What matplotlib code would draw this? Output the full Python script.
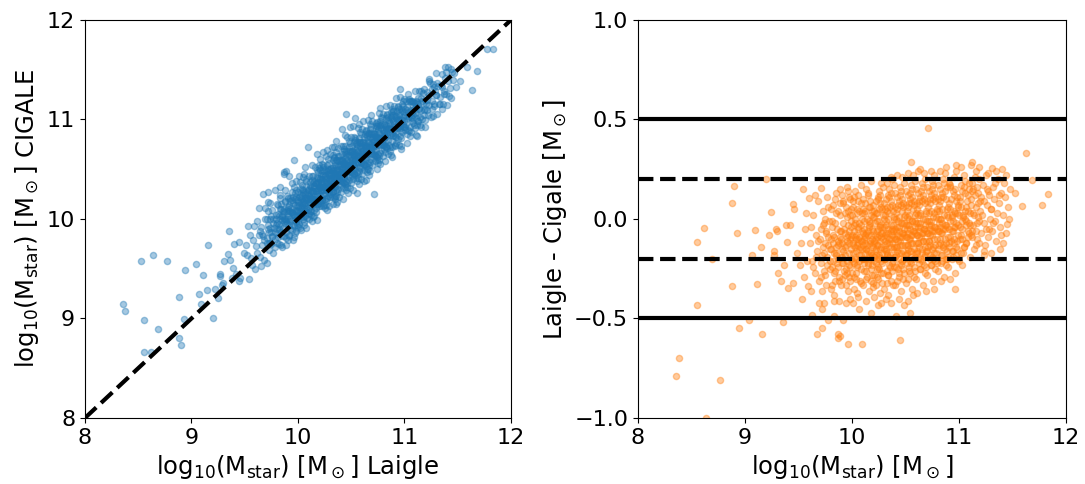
import matplotlib
matplotlib.use('Agg')
import matplotlib.pyplot as plt
import numpy as np

# (Laigle log10 Mstar, Laigle - Cigale): sparse/outlying galaxies
outlier_pts = [
    (8.53, -1.045), (8.635, -1.00), (8.77, -0.81), (8.355, -0.79), (8.38, -0.70),
    (8.55, -0.43), (8.55, -0.114), (8.62, -0.047), (8.69, -0.20), (8.88, 0.079),
    (8.90, 0.166), (8.88, -0.337), (8.93, -0.069), (8.94, -0.55), (9.04, -0.51),
    (9.07, -0.18), (9.09, -0.054), (9.11, -0.327), (9.15, -0.139), (9.16, -0.58),
    (9.20, 0.20), (9.22, -0.08), (9.245, 0.035), (9.27, -0.16), (9.27, -0.18),
    (9.29, -0.05), (9.30, -0.06), (9.31, -0.27), (9.34, -0.31), (9.355, -0.52),
    (9.36, -0.23), (9.38, -0.03), (9.39, -0.115), (9.40, -0.345), (9.42, -0.03),
    (9.45, -0.32), (9.45, 0.074), (9.46, 0.05), (9.51, -0.23), (9.53, -0.40),
    (9.545, 0.149), (9.59, -0.337), (9.60, 0.107), (9.63, -0.48), (9.65, 0.12),
    (9.67, -0.58), (9.69, -0.42), (9.71, 0.156), (9.72, -0.55), (9.72, -0.45),
    (9.74, -0.42), (9.78, -0.51), (9.83, -0.41), (9.83, -0.49), (9.87, -0.58),
    (9.87, -0.60), (9.88, -0.41), (9.89, -0.59), (9.92, -0.51), (9.94, -0.42),
    (9.965, -0.63), (10.01, -0.42), (10.07, -0.45), (10.09, -0.63), (10.18, -0.47),
    (10.24, -0.43), (10.33, 0.18), (10.36, -0.42), (10.36, 0.21), (10.41, -0.49),
    (10.45, -0.61), (10.49, -0.43), (10.54, -0.47), (10.55, 0.288), (10.57, -0.38),
    (10.62, 0.243), (10.71, 0.456), (10.77, -0.35), (10.82, 0.24), (10.96, -0.35),
    (10.97, 0.27), (11.11, 0.27), (11.12, 0.285), (11.19, 0.263), (11.23, -0.18),
    (11.30, -0.17), (11.31, 0.255), (11.40, 0.25), (11.45, -0.025), (11.52, 0.132),
    (11.59, 0.065), (11.63, 0.333), (11.68, 0.194), (11.78, 0.07), (11.83, 0.124),
]

# (Laigle log10 Mstar, Laigle - Cigale) estimated for the halo around the cloud
halo_pts = [
    (9.52,-0.12),(9.56,-0.05),(9.58,-0.21),(9.55,-0.29),(9.49,-0.17),(9.62,-0.36),(9.57,0.03),
    (9.98,-0.40),(10.06,-0.39),(10.13,-0.41),(10.21,-0.39),(10.27,-0.42),(10.32,-0.40),(10.44,-0.40),
    (10.52,-0.41),(10.61,-0.37),(10.69,-0.36),(10.83,-0.31),(10.92,-0.30),
    (10.42,0.22),(10.52,0.23),(10.64,0.25),(10.74,0.24),(10.88,0.26),(11.02,0.26),(11.16,0.24),
    (11.27,0.23),(11.35,0.24),(11.42,0.18),(11.44,0.22),(11.41,-0.12),(11.38,-0.15),(11.47,0.00),
]

# (Laigle log10 Mstar, Laigle - Cigale) estimated for the dense cloud
core_pts = [
    (9.61,-0.12),(9.63,-0.21),(9.64,0.02),(9.65,-0.27),(9.66,-0.08),(9.67,-0.16),(9.68,0.09),(9.69,-0.31),(9.62,-0.04),(9.66,-0.19),(9.68,-0.11),(9.64,-0.24),
    (9.71,-0.05),(9.72,-0.18),(9.73,0.04),(9.74,-0.26),(9.75,-0.12),(9.76,-0.33),(9.77,0.11),(9.78,-0.09),(9.79,-0.21),(9.71,-0.29),(9.73,-0.14),(9.75,0.00),(9.76,-0.07),(9.77,-0.23),(9.78,0.06),(9.79,-0.15),(9.72,-0.36),(9.74,-0.02),
    (9.80,-0.10),(9.81,-0.24),(9.82,0.07),(9.83,-0.17),(9.84,-0.31),(9.85,0.13),(9.86,-0.05),(9.87,-0.20),(9.88,-0.12),(9.89,0.02),(9.80,-0.35),(9.82,-0.08),(9.83,-0.27),(9.84,0.10),(9.85,-0.14),(9.86,-0.22),(9.87,0.04),(9.88,-0.29),(9.89,-0.09),(9.81,-0.01),(9.83,-0.38),(9.85,-0.18),(9.87,-0.11),(9.89,0.15),
    (9.90,-0.06),(9.91,-0.19),(9.92,0.08),(9.93,-0.28),(9.94,-0.13),(9.95,0.16),(9.96,-0.03),(9.97,-0.23),(9.98,-0.10),(9.99,0.05),(9.90,-0.33),(9.91,0.12),(9.92,-0.16),(9.93,-0.07),(9.94,-0.25),(9.95,0.01),(9.96,-0.36),(9.97,-0.12),(9.98,0.10),(9.99,-0.20),(9.91,-0.30),(9.93,0.03),(9.95,-0.09),(9.97,-0.17),(9.99,-0.04),(9.92,-0.22),(9.96,0.14),(9.98,-0.31),
    (10.00,-0.08),(10.01,-0.21),(10.02,0.11),(10.03,-0.14),(10.04,-0.30),(10.05,0.03),(10.06,-0.05),(10.07,-0.18),(10.08,0.17),(10.09,-0.11),(10.00,-0.27),(10.01,0.06),(10.02,-0.35),(10.03,-0.02),(10.04,-0.16),(10.05,-0.24),(10.06,0.09),(10.07,-0.09),(10.08,-0.32),(10.09,0.00),(10.01,-0.13),(10.02,-0.06),(10.03,0.14),(10.04,-0.20),(10.05,-0.37),(10.06,-0.12),(10.07,0.04),(10.08,-0.25),(10.09,-0.15),(10.00,0.02),(10.04,-0.10),(10.08,-0.03),
    (10.10,-0.07),(10.11,-0.22),(10.12,0.08),(10.13,-0.15),(10.14,-0.29),(10.15,0.12),(10.16,-0.04),(10.17,-0.19),(10.18,0.19),(10.19,-0.10),(10.10,-0.33),(10.11,0.03),(10.12,-0.12),(10.13,-0.26),(10.14,0.00),(10.15,-0.08),(10.16,-0.36),(10.17,0.06),(10.18,-0.17),(10.19,-0.28),(10.10,0.10),(10.11,-0.05),(10.12,-0.20),(10.13,0.15),(10.14,-0.13),(10.15,-0.23),(10.16,-0.01),(10.17,-0.11),(10.18,-0.31),(10.19,0.04),(10.12,-0.09),(10.15,-0.16),(10.17,-0.02),(10.19,-0.18),
    (10.20,-0.06),(10.21,-0.19),(10.22,0.09),(10.23,-0.13),(10.24,-0.30),(10.25,0.14),(10.26,-0.03),(10.27,-0.21),(10.28,0.05),(10.29,-0.10),(10.20,-0.34),(10.21,0.01),(10.22,-0.15),(10.23,-0.25),(10.24,0.11),(10.25,-0.08),(10.26,-0.37),(10.27,0.18),(10.28,-0.17),(10.29,-0.27),(10.20,0.07),(10.21,-0.11),(10.22,-0.22),(10.23,0.03),(10.24,-0.05),(10.25,-0.18),(10.26,0.12),(10.27,-0.07),(10.28,-0.32),(10.29,0.02),(10.21,-0.28),(10.23,-0.09),(10.25,-0.01),(10.27,-0.14),(10.29,0.16),(10.24,-0.20),
    (10.30,-0.04),(10.31,-0.20),(10.32,0.10),(10.33,-0.12),(10.34,-0.28),(10.35,0.15),(10.36,-0.06),(10.37,-0.22),(10.38,0.04),(10.39,-0.09),(10.30,-0.35),(10.31,0.02),(10.32,-0.16),(10.33,-0.26),(10.34,0.12),(10.35,-0.10),(10.36,-0.31),(10.37,0.20),(10.38,-0.15),(10.39,-0.24),(10.30,0.08),(10.31,-0.13),(10.32,-0.03),(10.33,0.06),(10.34,-0.07),(10.35,-0.19),(10.36,0.13),(10.37,-0.05),(10.38,-0.33),(10.39,0.00),(10.31,-0.08),(10.33,-0.18),(10.35,0.03),(10.37,-0.12),(10.39,0.17),(10.34,-0.38),
    (10.40,-0.05),(10.41,-0.18),(10.42,0.11),(10.43,-0.11),(10.44,-0.29),(10.45,0.16),(10.46,-0.02),(10.47,-0.21),(10.48,0.06),(10.49,-0.08),(10.40,-0.33),(10.41,0.03),(10.42,-0.14),(10.43,-0.25),(10.44,0.09),(10.45,-0.09),(10.46,-0.36),(10.47,0.21),(10.48,-0.16),(10.49,-0.27),(10.40,0.13),(10.41,-0.10),(10.42,-0.04),(10.43,0.07),(10.44,-0.06),(10.45,-0.20),(10.46,0.14),(10.47,-0.07),(10.48,-0.30),(10.49,0.01),(10.41,-0.24),(10.43,-0.01),(10.45,-0.13),(10.47,0.04),(10.49,0.18),(10.44,-0.17),
    (10.50,-0.03),(10.51,-0.17),(10.52,0.12),(10.53,-0.10),(10.54,-0.27),(10.55,0.17),(10.56,-0.01),(10.57,-0.20),(10.58,0.07),(10.59,-0.07),(10.50,-0.32),(10.51,0.04),(10.52,-0.13),(10.53,-0.24),(10.54,0.10),(10.55,-0.08),(10.56,-0.35),(10.57,0.22),(10.58,-0.15),(10.59,-0.26),(10.50,0.14),(10.51,-0.09),(10.52,-0.03),(10.53,0.08),(10.54,-0.05),(10.55,-0.19),(10.56,0.15),(10.57,-0.06),(10.58,-0.29),(10.59,0.02),(10.51,-0.22),(10.53,0.00),(10.55,-0.12),(10.57,0.05),(10.59,0.19),(10.54,-0.16),
    (10.60,-0.02),(10.61,-0.16),(10.62,0.13),(10.63,-0.09),(10.64,-0.25),(10.65,0.18),(10.66,0.00),(10.67,-0.19),(10.68,0.08),(10.69,-0.06),(10.60,-0.30),(10.61,0.05),(10.62,-0.12),(10.63,-0.22),(10.64,0.11),(10.65,-0.07),(10.66,-0.33),(10.67,0.23),(10.68,-0.14),(10.69,-0.24),(10.60,0.15),(10.61,-0.08),(10.62,-0.02),(10.63,0.09),(10.64,-0.04),(10.65,-0.17),(10.66,0.16),(10.67,-0.05),(10.68,-0.27),(10.69,0.03),(10.62,-0.20),(10.64,0.02),(10.66,-0.11),(10.68,0.20),
    (10.70,-0.01),(10.71,-0.14),(10.72,0.14),(10.73,-0.08),(10.74,-0.23),(10.75,0.19),(10.76,0.01),(10.77,-0.17),(10.78,0.09),(10.79,-0.05),(10.70,-0.28),(10.71,0.06),(10.72,-0.11),(10.73,-0.20),(10.74,0.12),(10.75,-0.06),(10.76,-0.31),(10.77,0.22),(10.78,-0.13),(10.79,-0.22),(10.70,0.16),(10.71,-0.07),(10.72,-0.01),(10.73,0.10),(10.74,-0.03),(10.75,-0.15),(10.76,0.17),(10.77,-0.04),(10.78,-0.25),(10.79,0.04),(10.73,-0.18),(10.77,0.03),
    (10.80,0.00),(10.81,-0.13),(10.82,0.15),(10.83,-0.07),(10.84,-0.21),(10.85,0.20),(10.86,0.02),(10.87,-0.15),(10.88,0.10),(10.89,-0.04),(10.80,-0.26),(10.81,0.07),(10.82,-0.10),(10.83,-0.18),(10.84,0.13),(10.85,-0.05),(10.86,-0.29),(10.87,0.23),(10.88,-0.12),(10.89,-0.20),(10.80,0.17),(10.81,-0.06),(10.82,0.00),(10.83,0.11),(10.84,-0.02),(10.85,-0.14),(10.86,0.18),(10.87,-0.03),(10.88,-0.23),(10.89,0.05),
    (10.90,0.01),(10.91,-0.12),(10.92,0.16),(10.93,-0.06),(10.94,-0.19),(10.95,0.21),(10.96,0.03),(10.97,-0.14),(10.98,0.11),(10.99,-0.03),(10.90,-0.24),(10.91,0.08),(10.92,-0.09),(10.93,-0.16),(10.94,0.14),(10.95,-0.04),(10.96,-0.27),(10.97,0.24),(10.98,-0.11),(10.99,0.06),(10.91,0.18),(10.93,0.02),(10.95,-0.10),(10.97,0.09),(10.99,-0.20),(10.94,-0.01),
    (11.00,0.02),(11.01,-0.10),(11.02,0.17),(11.03,-0.05),(11.04,-0.17),(11.05,0.22),(11.06,0.04),(11.07,-0.12),(11.08,0.12),(11.09,-0.02),(11.00,-0.21),(11.01,0.09),(11.02,-0.08),(11.03,0.14),(11.04,0.01),(11.05,-0.14),(11.06,0.19),(11.07,0.06),(11.08,-0.06),(11.09,0.15),(11.03,-0.23),(11.07,-0.01),
    (11.10,0.03),(11.11,-0.08),(11.12,0.18),(11.13,-0.03),(11.14,-0.15),(11.15,0.21),(11.16,0.06),(11.17,-0.10),(11.18,0.13),(11.19,-0.01),(11.10,-0.19),(11.11,0.10),(11.12,-0.06),(11.13,0.15),(11.14,0.02),(11.16,-0.13),(11.18,0.08),(11.19,0.20),
    (11.20,0.04),(11.21,-0.07),(11.22,0.17),(11.23,-0.02),(11.24,-0.13),(11.25,0.22),(11.26,0.07),(11.27,-0.09),(11.28,0.12),(11.29,0.00),(11.21,0.11),(11.23,-0.16),(11.26,0.15),(11.28,-0.05),
    (11.30,0.05),(11.31,-0.06),(11.32,0.16),(11.34,-0.01),(11.35,-0.11),(11.36,0.20),(11.37,0.08),(11.38,-0.04),(11.39,0.13),(11.33,0.10),
    (11.41,0.02),(11.43,0.11),(11.44,-0.07),(11.46,0.06),(11.48,0.15),
]

# (Laigle log10 Mstar, Laigle - Cigale) estimated for the saturated centre of the cloud
centre_pts = [
    (9.705,-0.10),(9.715,-0.22),(9.725,-0.03),(9.735,-0.17),(9.745,-0.28),(9.755,-0.06),(9.765,-0.19),(9.775,-0.13),(9.785,-0.01),(9.795,-0.25),
    (9.805,-0.15),(9.815,-0.04),(9.825,-0.21),(9.835,-0.09),(9.845,-0.26),(9.855,0.03),(9.865,-0.13),(9.875,-0.31),(9.885,-0.06),(9.895,-0.19),(9.805,0.05),(9.825,-0.12),(9.845,-0.02),(9.865,-0.24),(9.885,0.08),(9.815,-0.33),(9.855,-0.17),(9.895,-0.10),
    (9.905,-0.12),(9.915,-0.02),(9.925,-0.26),(9.935,-0.14),(9.945,0.06),(9.955,-0.21),(9.965,-0.08),(9.975,-0.29),(9.985,0.02),(9.995,-0.15),(9.905,-0.22),(9.915,0.09),(9.925,-0.05),(9.935,-0.18),(9.945,-0.33),(9.955,-0.11),(9.965,0.04),(9.975,-0.06),(9.985,-0.24),(9.995,-0.09),(9.91,-0.15),(9.95,-0.27),(9.97,0.11),(9.99,-0.01),
    (10.005,-0.12),(10.015,-0.03),(10.025,-0.19),(10.035,-0.27),(10.045,0.05),(10.055,-0.10),(10.065,-0.21),(10.075,-0.14),(10.085,0.08),(10.095,-0.06),(10.005,-0.17),(10.015,-0.29),(10.025,0.00),(10.035,-0.08),(10.045,-0.23),(10.055,0.12),(10.065,-0.15),(10.075,-0.31),(10.085,-0.11),(10.095,-0.20),(10.005,0.09),(10.025,-0.09),(10.045,-0.13),(10.065,-0.02),(10.085,-0.18),(10.015,-0.22),(10.055,-0.04),(10.095,0.03),
    (10.105,-0.13),(10.115,-0.01),(10.125,-0.17),(10.135,-0.07),(10.145,-0.22),(10.155,0.06),(10.165,-0.12),(10.175,-0.25),(10.185,-0.05),(10.195,-0.14),(10.105,-0.20),(10.115,-0.10),(10.125,0.04),(10.135,-0.30),(10.145,-0.06),(10.155,-0.18),(10.165,0.09),(10.175,-0.08),(10.185,-0.23),(10.195,0.01),(10.105,0.05),(10.115,-0.26),(10.125,-0.08),(10.135,-0.15),(10.145,0.13),(10.155,-0.03),(10.165,-0.20),(10.175,0.02),(10.185,-0.13),(10.195,-0.32),
    (10.205,-0.12),(10.215,-0.02),(10.225,-0.18),(10.235,-0.06),(10.245,-0.24),(10.255,0.05),(10.265,-0.11),(10.275,-0.27),(10.285,-0.04),(10.295,-0.15),(10.205,-0.21),(10.215,-0.08),(10.225,0.03),(10.235,-0.29),(10.245,-0.13),(10.255,-0.19),(10.265,0.08),(10.275,-0.09),(10.285,-0.22),(10.295,0.00),(10.205,0.04),(10.215,-0.16),(10.225,-0.10),(10.235,-0.01),(10.245,0.10),(10.255,-0.25),(10.265,-0.15),(10.275,0.06),(10.285,-0.07),(10.295,-0.20),(10.225,-0.33),(10.265,-0.04),
    (10.305,-0.11),(10.315,-0.01),(10.325,-0.17),(10.335,-0.05),(10.345,-0.23),(10.355,0.06),(10.365,-0.10),(10.375,-0.26),(10.385,-0.03),(10.395,-0.14),(10.305,-0.20),(10.315,-0.07),(10.325,0.04),(10.335,-0.28),(10.345,-0.12),(10.355,-0.18),(10.365,0.09),(10.375,-0.08),(10.385,-0.21),(10.395,0.01),(10.305,0.05),(10.315,-0.15),(10.325,-0.09),(10.335,0.00),(10.345,0.11),(10.355,-0.24),(10.365,-0.14),(10.375,0.07),(10.385,-0.06),(10.395,-0.19),(10.325,-0.32),(10.365,-0.03),
    (10.405,-0.10),(10.415,0.00),(10.425,-0.16),(10.435,-0.04),(10.445,-0.22),(10.455,0.07),(10.465,-0.09),(10.475,-0.25),(10.485,-0.02),(10.495,-0.13),(10.405,-0.19),(10.415,-0.06),(10.425,0.05),(10.435,-0.27),(10.445,-0.11),(10.455,-0.17),(10.465,0.10),(10.475,-0.07),(10.485,-0.20),(10.495,0.02),(10.405,0.06),(10.415,-0.14),(10.425,-0.08),(10.435,0.01),(10.445,0.12),(10.455,-0.23),(10.465,-0.13),(10.475,0.08),(10.485,-0.05),(10.495,-0.18),(10.425,-0.31),(10.465,-0.02),
    (10.505,-0.09),(10.515,0.01),(10.525,-0.15),(10.535,-0.03),(10.545,-0.21),(10.555,0.08),(10.565,-0.08),(10.575,-0.24),(10.585,-0.01),(10.595,-0.12),(10.505,-0.18),(10.515,-0.05),(10.525,0.06),(10.535,-0.26),(10.545,-0.10),(10.555,-0.16),(10.565,0.11),(10.575,-0.06),(10.585,-0.19),(10.595,0.03),(10.505,0.07),(10.515,-0.13),(10.525,-0.07),(10.535,0.02),(10.545,0.13),(10.555,-0.22),(10.565,-0.12),(10.575,0.09),(10.585,-0.04),(10.595,-0.17),(10.525,-0.30),(10.565,-0.01),
    (10.605,-0.08),(10.615,0.02),(10.625,-0.14),(10.635,-0.02),(10.645,-0.20),(10.655,0.09),(10.665,-0.07),(10.675,-0.23),(10.685,0.00),(10.695,-0.11),(10.605,-0.17),(10.615,-0.04),(10.625,0.07),(10.635,-0.25),(10.645,-0.09),(10.655,-0.15),(10.665,0.12),(10.675,-0.05),(10.685,-0.18),(10.695,0.04),(10.605,0.08),(10.615,-0.12),(10.625,-0.06),(10.635,0.03),(10.645,0.14),(10.655,-0.21),(10.665,-0.11),(10.675,0.10),(10.685,-0.03),(10.695,-0.16),
    (10.705,-0.07),(10.715,0.03),(10.725,-0.13),(10.735,-0.01),(10.745,-0.19),(10.755,0.10),(10.765,-0.06),(10.775,-0.21),(10.785,0.01),(10.795,-0.10),(10.705,-0.16),(10.715,-0.03),(10.725,0.08),(10.735,-0.23),(10.745,-0.08),(10.755,-0.14),(10.765,0.13),(10.775,-0.04),(10.785,-0.17),(10.795,0.05),(10.705,0.09),(10.715,-0.11),(10.725,-0.05),(10.735,0.04),(10.745,0.15),(10.755,-0.20),(10.765,-0.10),(10.775,0.11),
    (10.805,-0.06),(10.815,0.04),(10.825,-0.12),(10.835,0.00),(10.845,-0.18),(10.855,0.11),(10.865,-0.05),(10.875,-0.20),(10.885,0.02),(10.895,-0.09),(10.805,-0.15),(10.815,-0.02),(10.825,0.09),(10.835,-0.22),(10.845,-0.07),(10.855,-0.13),(10.865,0.14),(10.875,-0.03),(10.885,-0.16),(10.895,0.06),(10.805,0.10),(10.825,-0.04),(10.845,0.05),(10.865,-0.10),(10.885,0.16),(10.895,-0.19),
    (10.905,-0.05),(10.915,0.05),(10.925,-0.11),(10.935,0.01),(10.945,-0.16),(10.955,0.12),(10.965,-0.04),(10.975,-0.18),(10.985,0.03),(10.995,-0.08),(10.905,-0.14),(10.915,-0.01),(10.925,0.10),(10.935,-0.20),(10.945,-0.06),(10.955,-0.12),(10.965,0.15),(10.975,-0.02),(10.985,-0.15),(10.995,0.07),(10.915,0.17),(10.955,0.04),
    (11.005,-0.04),(11.015,0.06),(11.025,-0.10),(11.035,0.02),(11.045,-0.14),(11.055,0.13),(11.065,-0.03),(11.075,0.09),(11.085,0.04),(11.095,-0.07),(11.005,0.11),(11.025,-0.01),(11.045,0.16),(11.065,-0.12),(11.085,-0.09),(11.015,-0.17),(11.055,0.00),(11.095,0.18),
    (11.105,-0.03),(11.115,0.07),(11.125,-0.09),(11.135,0.03),(11.145,0.12),(11.155,-0.06),(11.165,0.16),(11.175,0.01),(11.185,-0.12),(11.195,0.09),(11.125,0.14),(11.165,-0.02),
    (11.215,0.02),(11.235,0.09),(11.255,-0.05),(11.275,0.14),(11.295,0.05),(11.315,-0.02),(11.335,0.18),(11.355,0.03),(11.375,0.12),(11.395,-0.08),
]

x_ticks = [8, 9, 10, 11, 12]
y_ticks_left = [8, 9, 10, 11, 12]
y_ticks_right = [-1.0, -0.5, 0.0, 0.5, 1.0]

pts = np.array(outlier_pts + halo_pts + core_pts + centre_pts)
laigle = pts[:, 0]
laigle_minus_cigale = pts[:, 1]
cigale = laigle - laigle_minus_cigale

plt.rcParams['mathtext.default'] = 'regular'
plt.rcParams['font.size'] = 16

fig = plt.figure(figsize=(10.85, 4.84), dpi=100)
ax1 = fig.add_axes([0.0783, 0.1364, 0.3926, 0.8223])
ax2 = fig.add_axes([0.588, 0.1364, 0.3945, 0.8223])

ax1.scatter(laigle, cigale, s=20, alpha=0.4, color='C0')
ax1.plot([8, 12], [8, 12], 'k--', lw=3)
ax1.set_xlim(8, 12)
ax1.set_ylim(8, 12)
ax1.set_xticks(x_ticks)
ax1.set_yticks(y_ticks_left)
ax1.set_xlabel(r'log$_{10}$(M$_{star}$) [M$_\odot$] Laigle', fontsize=17.5)
ax1.set_ylabel(r'log$_{10}$(M$_{star}$) [M$_\odot$] CIGALE', fontsize=17.5)

ax2.scatter(laigle, laigle_minus_cigale, s=20, alpha=0.4, color='C1')
for yv in (0.5, -0.5):
    ax2.axhline(yv, color='k', lw=3)
for yv in (0.2, -0.2):
    ax2.axhline(yv, color='k', lw=3, ls='--')
ax2.set_xlim(8, 12)
ax2.set_ylim(-1, 1)
ax2.set_xticks(x_ticks)
ax2.set_yticks(y_ticks_right)
ax2.set_xlabel(r'log$_{10}$(M$_{star}$) [M$_\odot$]', fontsize=17.5)
ax2.set_ylabel(r'Laigle - Cigale [M$_\odot$]', fontsize=17.5)

for ax in (ax1, ax2):
    ax.tick_params(labelsize=16)

fig.savefig('out.png', dpi=100)
